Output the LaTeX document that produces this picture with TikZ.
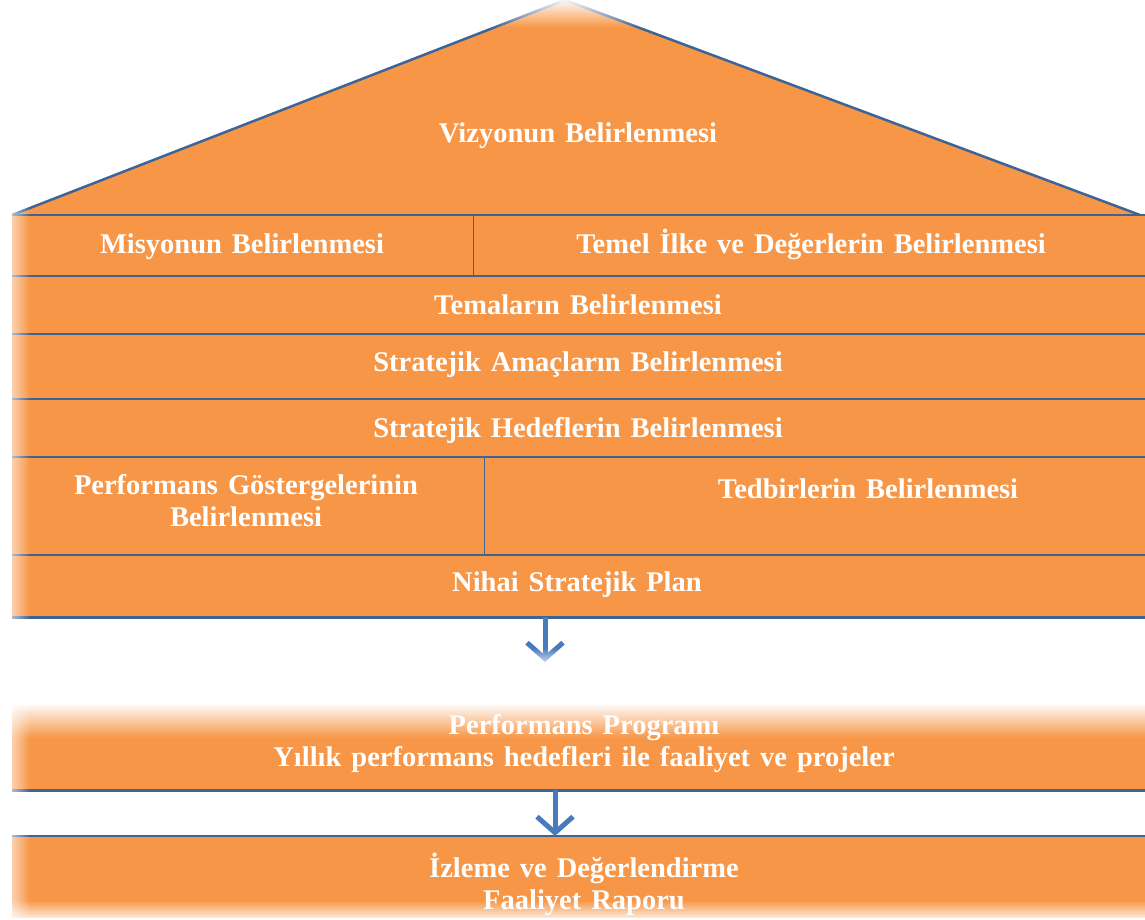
\documentclass[tikz,border=0pt]{standalone}
\usepackage{fontspec}
\setmainfont{Liberation Serif}[WordSpace=1.4]
\usetikzlibrary{arrows.meta,fadings}

\definecolor{boxorange}{RGB}{247,150,70}
\definecolor{seamblue}{RGB}{62,100,150}
\definecolor{flowblue}{RGB}{72,122,190}

\tikzset{
  cell/.style={fill=boxorange, inner sep=0pt, anchor=north west},
  seam/.style={draw=seamblue, line width=2.5pt},
  txt/.style={text=white, font=\fontsize{28.5}{32}\selectfont\bfseries, align=center, inner sep=0pt},
  flow/.style={draw=flowblue, line width=5pt, -{Straight Barb[length=16pt,width=36pt]}},
  fadeout/.style={fill=white}
}

\begin{document}
\begin{tikzpicture}[x=1pt,y=1pt,yscale=-1,xscale=1]
\useasboundingbox (0,0) rectangle (1145,920);

%Shape: Roof
\fill [boxorange] (12,215) -- (565,0) -- (1140,215) -- cycle ;
\draw [seam] (12,215) -- (565,0) -- (1140,215) ;

%Shape: Cells of the house
\node [cell, minimum width=461pt, minimum height=61pt] (mis) at (12,215) {};
\node [cell, minimum width=672pt, minimum height=61pt] (tem) at (473,215) {};
\node [cell, minimum width=1133pt, minimum height=58pt] (tema) at (12,276) {};
\node [cell, minimum width=1133pt, minimum height=65pt] (amac) at (12,334) {};
\node [cell, minimum width=1133pt, minimum height=58pt] (hedef) at (12,399) {};
\node [cell, minimum width=472pt, minimum height=98pt] (gost) at (12,457) {};
\node [cell, minimum width=661pt, minimum height=98pt] (tedb) at (484,457) {};
\node [cell, minimum width=1133pt, minimum height=62pt] (nihai) at (12,555) {};

%Shape: Lower boxes
\node [cell, minimum width=1133pt, minimum height=85pt] (perf) at (12,705) {};
\node [cell, minimum width=1133pt, minimum height=82pt] (izl) at (12,836) {};

%Straight Lines: seams
\draw [seam] (mis.north west) -- (tem.north east) ;
\draw [seam] (tema.north west) -- (tema.north east) ;
\draw [seam] (amac.north west) -- (amac.north east) ;
\draw [seam] (hedef.north west) -- (hedef.north east) ;
\draw [seam] (gost.north west) -- (tedb.north east) ;
\draw [seam] (nihai.north west) -- (nihai.north east) ;
\draw [seam] (nihai.south west) -- (nihai.south east) ;
\draw [seam, line width=1.5pt] (mis.north east) -- (mis.south east) ;
\draw [seam, line width=1.5pt] (gost.north east) -- (gost.south east) ;
\draw [seam] (perf.south west) -- (perf.south east) ;
\draw [seam] (izl.north west) -- (izl.north east) ;

%Arrows
\coordinate (a1) at (545,662) ;
\coordinate (a2) at (555,0) ;
\draw [flow] (nihai.south -| a1) -- (a1) ;
\draw [flow] (perf.south -| a2) -- (izl.north -| a2) ;

%Fadings
\fill [fadeout, path fading=south] (480,-2) rectangle (650,28) ;
\fill [fadeout, path fading=north] (500,648) rectangle (600,668) ;
\fill [fadeout, path fading=south] (-5,703) rectangle (1150,738) ;
\fill [fadeout, path fading=north] (-5,900) rectangle (1150,922) ;
\fill [fadeout, path fading=east] (-2,200) rectangle (30,922) ;

% Text Node
\node [txt] (t1) at (578,136) {Vizyonun Belirlenmesi};
% Text Node
\node [txt] (t2) at (242,247) {Misyonun Belirlenmesi};
% Text Node
\node [txt] (t3) at (811,244) {Temel İlke ve Değerlerin Belirlenmesi};
% Text Node
\node [txt] (t4) at (578,305) {Temaların Belirlenmesi};
% Text Node
\node [txt] (t5) at (578,365) {Stratejik Amaçların Belirlenmesi};
% Text Node
\node [txt] (t6) at (578,430) {Stratejik Hedeflerin Belirlenmesi};
% Text Node
\node [txt] (t7) at (246,501) {Performans Göstergelerinin\\Belirlenmesi};
% Text Node
\node [txt] (t8) at (868,489) {Tedbirlerin Belirlenmesi};
% Text Node
\node [txt] (t9) at (577,585) {Nihai Stratejik Plan};
% Text Node
\node [txt] (t10) at (584,744) {Performans Programı\\Yıllık performans hedefleri ile faaliyet ve projeler};
% Text Node
\node [txt] (t11) at (584,884) {İzleme ve Değerlendirme\\Faaliyet Raporu};

\end{tikzpicture}
\end{document}
